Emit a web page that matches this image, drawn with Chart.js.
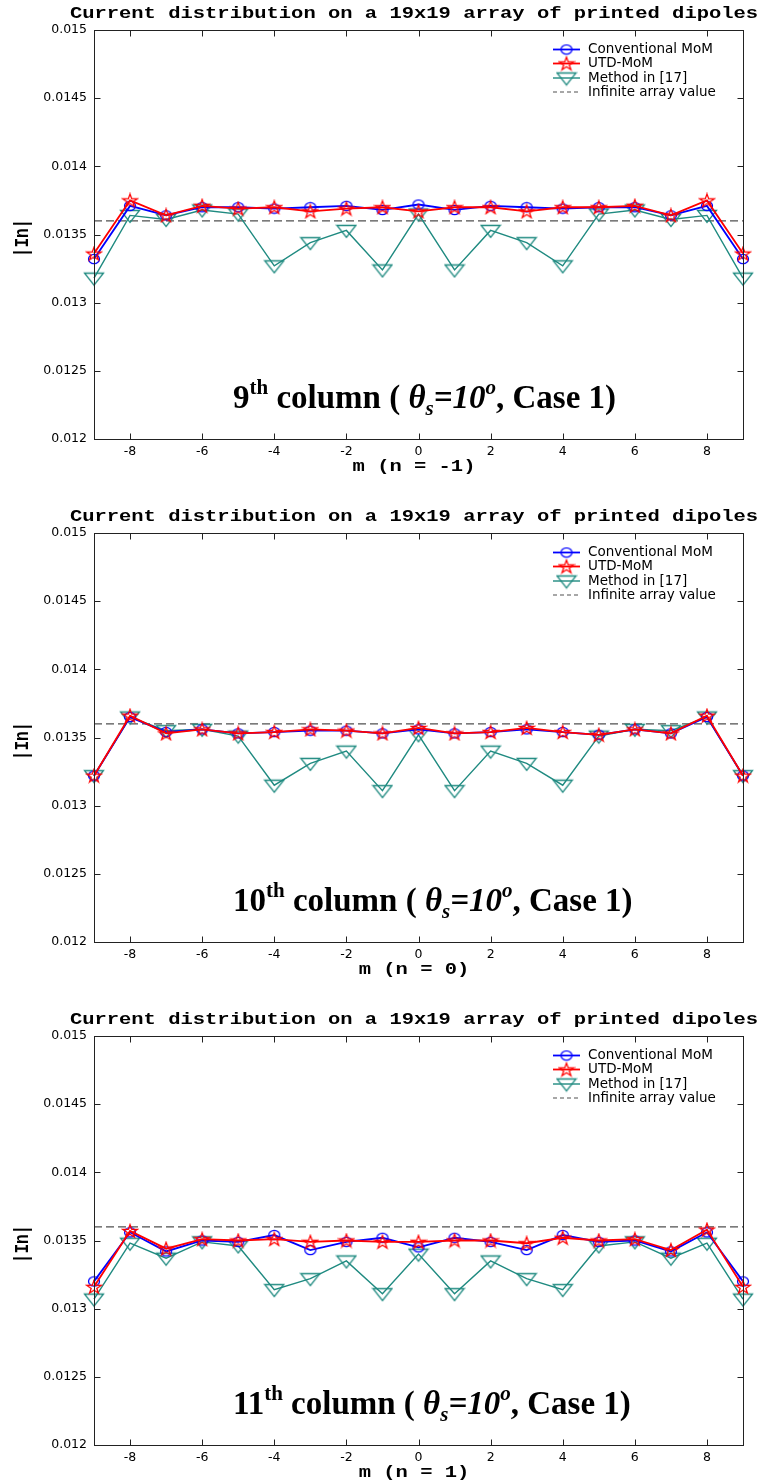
<!DOCTYPE html>
<html>
<head>
<meta charset="utf-8">
<script src="https://cdn.jsdelivr.net/npm/chart.js@4.4.1/dist/chart.umd.min.js"></script>
<style>
    html, body { margin: 0; padding: 0; background: #fff; overflow: hidden; }
    .panel { position: absolute; left: 0; }
</style>
</head>
<body>
<div class="panel" style="top:0px"><canvas id="c0" width="773" height="503"></canvas></div>
<div class="panel" style="top:503px"><canvas id="c1" width="773" height="503"></canvas></div>
<div class="panel" style="top:1006px"><canvas id="c2" width="773" height="477"></canvas></div>
<script>
// m index along the column
const mValues = [-9, -8, -7, -6, -5, -4, -3, -2, -1, 0, 1, 2, 3, 4, 5, 6, 7, 8, 9];
const xTickValues = [-8, -6, -4, -2, 0, 2, 4, 6, 8];
const xTickLabels = ['-8', '-6', '-4', '-2', '0', '2', '4', '6', '8'];
const yTickValues = [0.012, 0.0125, 0.013, 0.0135, 0.014, 0.0145, 0.015];
const yTickLabels = ['0.012', '0.0125', '0.013', '0.0135', '0.014', '0.0145', '0.015'];
const infiniteValue = 0.0136;

// 9th column (n = -1)
const conv9 = [0.01332, 0.01371, 0.01364, 0.01370, 0.01370, 0.01369, 0.01370, 0.01371, 0.01368, 0.01372, 0.01368, 0.01371, 0.01370, 0.01369, 0.01370, 0.01370, 0.01364, 0.01371, 0.01332];
const utd9  = [0.01336, 0.01375, 0.01364, 0.01371, 0.01369, 0.01370, 0.01367, 0.01369, 0.01370, 0.01367, 0.01370, 0.01370, 0.01367, 0.01370, 0.01370, 0.01371, 0.01364, 0.01375, 0.01336];
const ref9  = [0.01318, 0.01364, 0.01361, 0.01368, 0.01365, 0.01327, 0.01344, 0.01353, 0.01324, 0.01365, 0.01324, 0.01353, 0.01344, 0.01327, 0.01365, 0.01368, 0.01361, 0.01364, 0.01318];

// 10th column (n = 0)
const conv10 = [0.01322, 0.01365, 0.01354, 0.01356, 0.01353, 0.01354, 0.01355, 0.01355, 0.01353, 0.01356, 0.01353, 0.01354, 0.01356, 0.01354, 0.01352, 0.01356, 0.01353, 0.01365, 0.01322];
const utd10  = [0.01322, 0.01366, 0.01353, 0.01356, 0.01353, 0.01354, 0.01356, 0.01355, 0.01353, 0.01357, 0.01353, 0.01354, 0.01357, 0.01354, 0.01352, 0.01356, 0.01353, 0.01366, 0.01322];
const ref10  = [0.01322, 0.01365, 0.01355, 0.01356, 0.01351, 0.01315, 0.01331, 0.01340, 0.01311, 0.01352, 0.01311, 0.01340, 0.01331, 0.01315, 0.01351, 0.01356, 0.01355, 0.01365, 0.01322];

// 11th column (n = 1)
const conv11 = [0.01320, 0.01356, 0.01342, 0.01350, 0.01349, 0.01354, 0.01343, 0.01349, 0.01352, 0.01345, 0.01352, 0.01349, 0.01343, 0.01354, 0.01349, 0.01350, 0.01342, 0.01356, 0.01320];
const utd11  = [0.01316, 0.01357, 0.01344, 0.01351, 0.01350, 0.01351, 0.01349, 0.01350, 0.01349, 0.01349, 0.01350, 0.01350, 0.01348, 0.01352, 0.01350, 0.01351, 0.01343, 0.01358, 0.01316];
const ref11  = [0.01307, 0.01348, 0.01337, 0.01349, 0.01346, 0.01314, 0.01322, 0.01335, 0.01311, 0.01340, 0.01311, 0.01335, 0.01322, 0.01314, 0.01346, 0.01349, 0.01337, 0.01348, 0.01307];

const seriesNames = ['Conventional MoM', 'UTD-MoM', 'Method in [17]', 'Infinite array value'];
const panelOrdinals = ['9', '10', '11'];
const panelXTitles = ['m (n = -1)', 'm (n = 0)', 'm (n = 1)'];
const chartTitle = 'Current distribution on a 19x19 array of printed dipoles';

const BLUE = '#0000ff';
const RED = '#ff0000';
const TEAL = '#1f8a80';
const GREY = '#505050';
const STRETCH = 1.28; // the original figure is stretched sideways

// marker images (MATLAB style, hollow)
function makeMarker(w, h, color, drawPath) {
    const c = document.createElement('canvas');
    c.width = w;
    c.height = h;
    const g = c.getContext('2d');
    g.strokeStyle = color;
    g.lineWidth = 1.3;
    drawPath(g);
    g.stroke();
    return c;
}

const circleMarker = makeMarker(14, 12, BLUE, g => {
    g.beginPath();
    g.ellipse(7, 6, 5.5, 4.6, 0, 0, Math.PI * 2);
});

const starMarker = makeMarker(18, 16, RED, g => {
    g.beginPath();
    for (let k = 0; k < 10; k++) {
        const r = k % 2 ? 0.39 : 1;
        const a = -Math.PI / 2 + k * Math.PI / 5;
        const px = 9 + Math.cos(a) * 7.6 * r;
        const py = 8.6 + Math.sin(a) * 7 * r;
        if (k === 0) g.moveTo(px, py); else g.lineTo(px, py);
    }
    g.closePath();
});

const triMarker = makeMarker(22, 17, TEAL, g => {
    g.beginPath();
    g.moveTo(1.5, 3.5);
    g.lineTo(20.5, 3.5);
    g.lineTo(11, 15.5);
    g.closePath();
});

function toPoints(arr) {
    return arr.map((v, i) => ({ x: mValues[i], y: v }));
}

function makeDatasets(conv, utd, ref) {
    return [
        {
            label: seriesNames[0], data: toPoints(conv),
            borderColor: BLUE, borderWidth: 1.8,
            pointStyle: circleMarker, pointRadius: 6, order: 1
        },
        {
            label: seriesNames[1], data: toPoints(utd),
            borderColor: RED, borderWidth: 1.8,
            pointStyle: starMarker, pointRadius: 7, order: 0
        },
        {
            label: seriesNames[2], data: toPoints(ref),
            borderColor: TEAL, borderWidth: 1.4,
            pointStyle: triMarker, pointRadius: 8, order: 2
        },
        {
            label: seriesNames[3],
            data: [{ x: mValues[0], y: infiniteValue }, { x: mValues[mValues.length - 1], y: infiniteValue }],
            borderColor: GREY, borderWidth: 1.1, borderDash: [8, 4],
            pointRadius: 0, order: 3
        }
    ];
}

function stretchText(ctx, text, font, x, y, rotate) {
    ctx.save();
    ctx.font = font;
    ctx.fillStyle = '#000';
    ctx.textAlign = 'center';
    ctx.textBaseline = 'middle';
    ctx.translate(x, y);
    if (rotate) {
        ctx.rotate(-Math.PI / 2);
        ctx.scale(1, STRETCH);
    } else {
        ctx.scale(STRETCH, 1);
    }
    ctx.fillText(text, 0, 0);
    ctx.restore();
}

function drawAnnotation(ctx, ordinal, x, y) {
    const big = 33, small = 21;
    const serif = '"Liberation Serif", "Times New Roman", serif';
    const segs = [
        [ordinal, 'bold ' + big + 'px ' + serif, 0],
        ['th', 'bold ' + small + 'px ' + serif, -14],
        [' column ( ', 'bold ' + big + 'px ' + serif, 0],
        ['\u03b8', 'italic bold ' + big + 'px ' + serif, 0],
        ['s', 'italic bold ' + small + 'px ' + serif, 7],
        ['=10', 'italic bold ' + big + 'px ' + serif, 0],
        ['o', 'italic bold ' + small + 'px ' + serif, -14],
        [', Case 1)', 'bold ' + big + 'px ' + serif, 0]
    ];
    ctx.save();
    ctx.fillStyle = '#000';
    ctx.textAlign = 'left';
    ctx.textBaseline = 'alphabetic';
    let cx = x;
    segs.forEach(([txt, font, dy]) => {
        ctx.font = font;
        ctx.fillText(txt, cx, y + dy);
        cx += ctx.measureText(txt).width;
    });
    ctx.restore();
}

function drawLegend(ctx, top) {
    const rows = [top + 19.5, top + 33.5, top + 48, top + 62];
    const x1 = 553, x2 = 580, xm = 566.5, xt = 588;
    const styles = [
        { color: BLUE, width: 1.8, marker: circleMarker },
        { color: RED, width: 1.8, marker: starMarker },
        { color: TEAL, width: 1.4, marker: triMarker },
        { color: GREY, width: 1.1, dash: [4, 3] }
    ];
    ctx.save();
    styles.forEach((s, i) => {
        const y = rows[i];
        ctx.strokeStyle = s.color;
        ctx.lineWidth = s.width;
        ctx.setLineDash(s.dash || []);
        ctx.beginPath();
        ctx.moveTo(x1, y);
        ctx.lineTo(x2, y);
        ctx.stroke();
        if (s.marker) {
            ctx.drawImage(s.marker, xm - s.marker.width / 2, y - s.marker.height / 2);
        }
        ctx.fillStyle = '#000';
        ctx.font = '13.5px "DejaVu Sans", sans-serif';
        ctx.textAlign = 'left';
        ctx.textBaseline = 'middle';
        ctx.fillText(seriesNames[i], xt, y);
    });
    ctx.restore();
}

const decorPlugin = {
    id: 'decor',
    afterDraw(chart, args, opts) {
        const ctx = chart.ctx;
        const area = chart.chartArea;
        const xs = chart.scales.x, ys = chart.scales.y;
        const L = Math.round(area.left) + 0.5, R = Math.round(area.right) + 0.5;
        const T = Math.round(area.top) + 0.5, B = Math.round(area.bottom) + 0.5;

        // axes box with inward ticks
        ctx.save();
        ctx.strokeStyle = '#222';
        ctx.lineWidth = 1;
        ctx.strokeRect(L, T, R - L, B - T);
        ctx.beginPath();
        yTickValues.forEach(v => {
            const y = Math.round(ys.getPixelForValue(v)) + 0.5;
            ctx.moveTo(L, y); ctx.lineTo(L + 6, y);
            ctx.moveTo(R, y); ctx.lineTo(R - 6, y);
        });
        xTickValues.forEach(v => {
            const x = Math.round(xs.getPixelForValue(v)) + 0.5;
            ctx.moveTo(x, B); ctx.lineTo(x, B - 6);
            ctx.moveTo(x, T); ctx.lineTo(x, T + 6);
        });
        ctx.stroke();
        ctx.restore();

        const mono = 'bold 16px "Liberation Mono", "Courier New", monospace';
        stretchText(ctx, chartTitle, mono, 414, area.top - 16);
        stretchText(ctx, opts.xTitle, mono, 414, area.bottom + 28);
        stretchText(ctx, '|In|', mono, 23, area.top + 208, true);

        drawAnnotation(ctx, opts.ordinal, 233, area.bottom - 31);
        drawLegend(ctx, area.top);
    }
};

const panelData = [
    [conv9, utd9, ref9],
    [conv10, utd10, ref10],
    [conv11, utd11, ref11]
];

panelData.forEach((series, p) => {
    const canvas = document.getElementById('c' + p);
    const ctx = canvas.getContext('2d');
    const H = canvas.height;
    new Chart(ctx, {
        type: 'line',
        data: { datasets: makeDatasets(series[0], series[1], series[2]) },
        plugins: [decorPlugin],
        options: {
            responsive: false,
            animation: false,
            events: [],
            devicePixelRatio: 1,
            layout: { padding: { left: 0, right: 30, top: 30, bottom: 0 } },
            elements: {
                line: { tension: 0, fill: false },
                point: { backgroundColor: 'rgba(0,0,0,0)', borderWidth: 0 }
            },
            datasets: { line: { clip: false } },
            plugins: {
                legend: { display: false },
                tooltip: { enabled: false },
                decor: { xTitle: panelXTitles[p], ordinal: panelOrdinals[p] }
            },
            scales: {
                x: {
                    type: 'linear',
                    min: mValues[0],
                    max: mValues[mValues.length - 1],
                    grid: { display: false, drawTicks: false },
                    border: { display: false },
                    afterBuildTicks: s => { s.ticks = xTickValues.map(v => ({ value: v })); },
                    afterFit: s => { s.height = H - 439; },
                    ticks: {
                        autoSkip: false,
                        maxRotation: 0,
                        padding: 5,
                        color: '#000',
                        font: { family: '"DejaVu Sans", sans-serif', size: 12.5 },
                        callback: (v, i) => xTickLabels[i]
                    }
                },
                y: {
                    min: yTickValues[0],
                    max: yTickValues[yTickValues.length - 1],
                    grid: { display: false, drawTicks: false },
                    border: { display: false },
                    afterBuildTicks: s => { s.ticks = yTickValues.map(v => ({ value: v })); },
                    afterFit: s => { s.width = 94; },
                    ticks: {
                        padding: 7,
                        color: '#000',
                        font: { family: '"DejaVu Sans", sans-serif', size: 12.5 },
                        callback: (v, i) => yTickLabels[i]
                    }
                }
            }
        }
    });
});
</script>
</body>
</html>
